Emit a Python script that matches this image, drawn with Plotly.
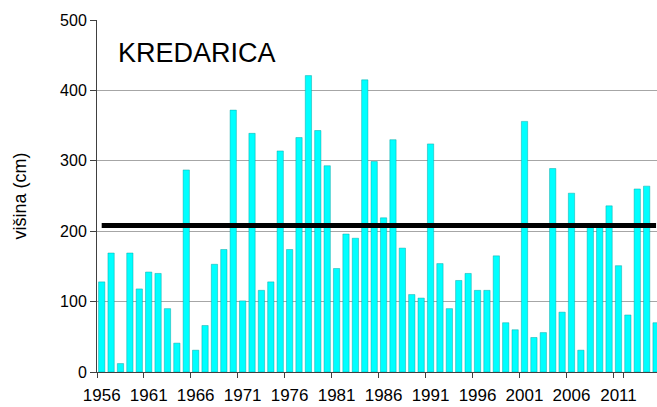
import plotly.graph_objects as go

years = [str(y) for y in range(1956, 2016)]
snow_depth = [128, 169, 12, 169, 118, 142, 140, 90, 41, 287,
              31, 66, 153, 174, 372, 101, 339, 116, 128, 314,
              174, 333, 421, 343, 293, 147, 196, 190, 415, 299,
              219, 330, 176, 110, 105, 324, 154, 90, 130, 140,
              116, 116, 165, 70, 60, 356, 49, 56, 289, 85,
              254, 31, 206, 206, 236, 151, 81, 260, 264, 70]
average = 208
tick_labels = [str(y) for y in range(1956, 2016, 5)]
y_ticks = [0, 100, 200, 300, 400, 500]

fig = go.Figure()
fig.add_trace(go.Bar(
    x=years, y=snow_depth,
    marker=dict(color="#00FFFF", line=dict(color="rgba(0,160,160,0.45)", width=1)),
    showlegend=False,
))
fig.add_trace(go.Scatter(
    x=years, y=[average] * len(years), mode="lines",
    line=dict(color="black", width=5),
    showlegend=False,
))

fig.update_layout(
    width=657, height=407,
    margin=dict(l=97, r=0, t=20, b=35),
    paper_bgcolor="white", plot_bgcolor="white",
    bargap=0.33,
    font=dict(family="Liberation Sans, Arial, sans-serif", size=16, color="black"),
    annotations=[dict(
        text="KREDARICA", xref="paper", yref="paper",
        x=0.034, y=0.906, xanchor="left", yanchor="middle",
        showarrow=False, font=dict(size=27, color="black"),
    )],
)
fig.update_xaxes(
    type="category", range=[-0.5, 59.1], automargin=False,
    tickmode="array", tickvals=tick_labels, ticktext=tick_labels, tickangle=0,
    tickson="boundaries", ticks="outside", ticklen=5, tickcolor="#404040",
    ticklabelstandoff=8,
    showline=True, linecolor="#404040", linewidth=1,
    showgrid=False, tickfont=dict(size=17),
)
fig.update_yaxes(
    range=[0, 500], tickvals=y_ticks, automargin=False,
    ticks="outside", ticklen=6, tickcolor="#404040",
    showline=True, linecolor="#404040", linewidth=1,
    showgrid=True, gridcolor="#a6a6a6", gridwidth=1,
    zeroline=False,
    title=dict(text="višina (cm)", font=dict(size=18), standoff=28),
)

fig.write_html(
    "out.html",
    config={"displayModeBar": False},
    post_script="document.body.style.margin='0';document.body.style.overflow='hidden';",
)
